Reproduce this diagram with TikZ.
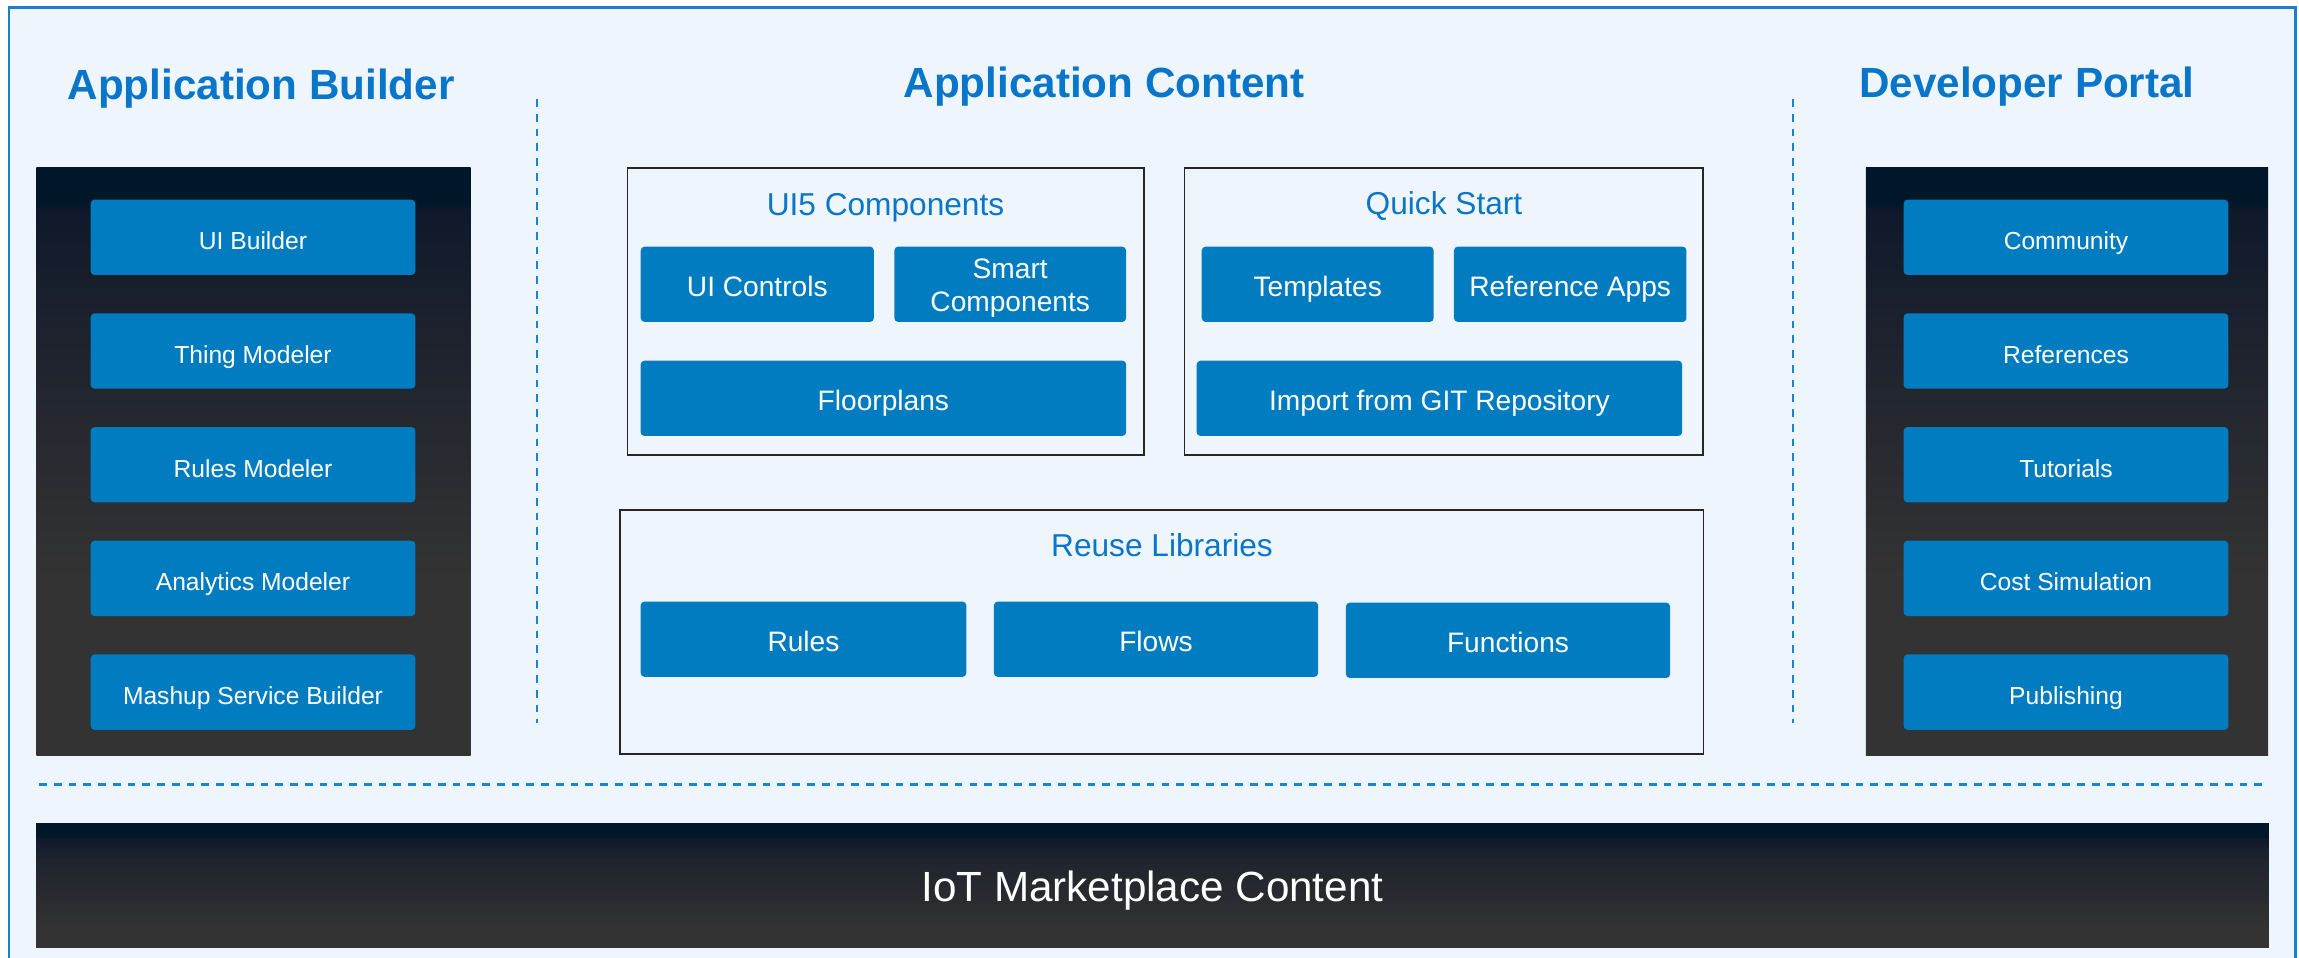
\documentclass[tikz,border=0pt]{standalone}
\usepackage{fontspec}
\setmainfont{Liberation Sans}

\definecolor{pagebg}{HTML}{EEF5FC}
\definecolor{frameblue}{HTML}{1A7ED2}
\definecolor{headblue}{HTML}{0A76C9}
\definecolor{tileblue}{HTML}{027CC0}
\definecolor{sepblue}{HTML}{1684D8}
\definecolor{boxgray}{HTML}{262626}
\definecolor{navytop}{HTML}{001629}
\definecolor{navymid}{HTML}{0F192B}
\definecolor{slatemid}{HTML}{20242E}
\definecolor{slatelow}{HTML}{2A2B30}
\definecolor{charcoal}{HTML}{333333}

% tall side columns: thin navy band on top, fading to charcoal
\pgfdeclareverticalshading{darkcolumn}{100bp}{color(0bp)=(charcoal); color(25bp)=(charcoal);
  color(40bp)=(charcoal); color(58bp)=(slatemid); color(71.5bp)=(navymid);
  color(71.8bp)=(navytop); color(100bp)=(navytop)}
% wide footer band
\pgfdeclareverticalshading{darkfooter}{100bp}{color(0bp)=(charcoal); color(25bp)=(charcoal);
  color(32bp)=(charcoal); color(45bp)=(slatelow); color(60bp)=(slatemid);
  color(69.4bp)=(navymid); color(69.8bp)=(navytop); color(100bp)=(navytop)}

\begin{document}
\begin{tikzpicture}[x=0.01cm,y=-0.01cm,
  heading/.style={text=headblue, font=\bfseries\fontsize{12}{14}\selectfont, anchor=base, inner sep=0pt},
  subhead/.style={text=headblue, font=\fontsize{9}{11}\selectfont, anchor=base, inner sep=0pt},
  capcenter/.style={text height=0.716em, text depth=0pt},
  sidetile/.style={fill=tileblue, rounded corners=1.1pt, text=white, inner sep=0pt,
    font=\fontsize{7}{8.4}\selectfont, minimum width=3.245cm, minimum height=0.753cm, capcenter},
  tile/.style={fill=tileblue, rounded corners=1.1pt, text=white, inner sep=0pt, align=center,
    font=\fontsize{8}{9.4}\selectfont, minimum height=0.753cm},
  group/.style={draw=boxgray, line width=0.45pt, inner sep=0pt},
  column/.style={shade, shading=darkcolumn, inner sep=0pt, minimum height=5.87cm},
  separator/.style={sepblue, line width=0.77pt, dash pattern=on 2.2pt off 2pt}]

\useasboundingbox (0,0) rectangle (2299,957);
\clip (0,0) rectangle (2299,957);
\fill[white] (0,0) rectangle (2299,957);
\draw[frameblue, line width=0.85pt, fill=pagebg] (9,7.5) rectangle (2295,1010);

% section headings
\node[heading] (hbuilder) at (261,99) {Application Builder};
\node[heading] (hcontent) at (1104,97) {Application Content};
\node[heading] (hportal)  at (2027,97) {Developer Portal};

% separators
\coordinate (sepLtop) at (537,99);
\coordinate (sepLbot) at (537,723);
\coordinate (sepRtop) at (1793,99);
\coordinate (sepRbot) at (1793,723);
\coordinate (sepHl) at (39,784.3);
\coordinate (sepHr) at (2268,784.3);
\draw[separator] (sepLtop) -- (sepLbot);
\draw[separator] (sepRtop) -- (sepRbot);
\draw[separator] (sepHl) -- (sepHr);

% Application Builder column
\node[column, minimum width=4.34cm] (builder) at (253.6,461.5) {};
\node[sidetile] (uib)   at (253,237.3) {UI Builder};
\node[sidetile] (thing) at (253,351)   {Thing Modeler};
\node[sidetile] (rulem) at (253,464.7) {Rules Modeler};
\node[sidetile] (anam)  at (253,578.4) {Analytics Modeler};
\node[sidetile] (mash)  at (253,692.1) {Mashup Service Builder};

% Developer Portal column
\node[column, minimum width=4.02cm] (portal) at (2067,461.5) {};
\node[sidetile] (comm) at (2066,237.3) {Community};
\node[sidetile] (refs) at (2066,351)   {References};
\node[sidetile] (tuts) at (2066,464.7) {Tutorials};
\node[sidetile] (cost) at (2066,578.4) {Cost Simulation};
\node[sidetile] (publ) at (2066,692.1) {Publishing};

% UI5 Components group
\node[group, minimum width=5.161cm, minimum height=2.87cm] (ui5) at (885.5,311.5) {};
\node[subhead] (ui5t) at (885.5,215) {UI5 Components};
\node[tile, capcenter, minimum width=2.33cm] (ctrl) at (757.3,284.3) {UI Controls};
\node[tile, minimum width=2.316cm, minimum height=0.753cm] (smart) at (1010.2,284.3) {};
\node[anchor=base, inner sep=0pt, text=white, align=center,
  font=\fontsize{8}{9.4}\selectfont] (smartt) at (1010.2,311.5) {Smart\\Components};
\node[tile, capcenter, minimum width=4.853cm] (floor) at (883.4,398.3) {Floorplans};

% Quick Start group
\node[group, minimum width=5.184cm, minimum height=2.867cm] (quick) at (1443.8,311.7) {};
\node[subhead] (quickt) at (1444,214.5) {Quick Start};
\node[tile, capcenter, minimum width=2.318cm] (tmpl) at (1317.7,284.3) {Templates};
\node[tile, capcenter, minimum width=2.324cm] (refapp) at (1570.2,284.3) {Reference Apps};
\node[tile, capcenter, minimum width=4.852cm] (git) at (1439.4,398.3) {Import from GIT Repository};

% Reuse Libraries group
\node[group, minimum width=10.825cm, minimum height=2.44cm] (reuse) at (1161.8,632) {};
\node[subhead] (reuset) at (1162,556.7) {Reuse Libraries};
\node[tile, capcenter, minimum width=3.255cm] (rules) at (803.5,639.2) {Rules};
\node[tile, capcenter, minimum width=3.24cm]  (flows) at (1156,639.2)  {Flows};
\node[tile, capcenter, minimum width=3.24cm]  (funcs) at (1508,640.3)  {Functions};

% marketplace footer
\node[shade, shading=darkfooter, inner sep=0pt, minimum width=22.315cm, minimum height=1.23cm] (market) at (1152.4,885.5) {};
\node[anchor=base, inner sep=0pt, text=white, font=\fontsize{12}{14}\selectfont] (markett) at (1152.4,901.7) {IoT Marketplace Content};

\end{tikzpicture}
\end{document}
